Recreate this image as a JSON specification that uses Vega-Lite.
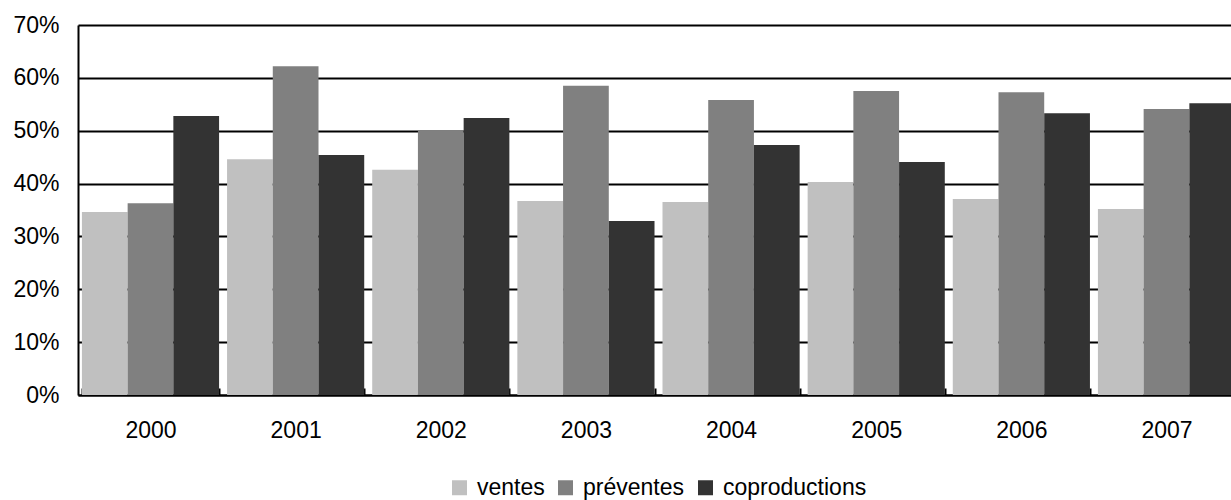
{
  "$schema": "https://vega.github.io/schema/vega-lite/v6.json",
  "autosize": "none",
  "padding": {"left": 78, "top": 25, "right": 0, "bottom": 105},
  "width": 1161,
  "height": 370,
  "background": "white",
  "config": {
    "view": {"stroke": null},
    "font": "Liberation Sans"
  },
  "data": {
    "values": [
      {"year": "2000", "type": "ventes", "value": 0.346},
      {"year": "2000", "type": "préventes", "value": 0.363},
      {"year": "2000", "type": "coproductions", "value": 0.528},
      {"year": "2001", "type": "ventes", "value": 0.446},
      {"year": "2001", "type": "préventes", "value": 0.622},
      {"year": "2001", "type": "coproductions", "value": 0.454},
      {"year": "2002", "type": "ventes", "value": 0.426},
      {"year": "2002", "type": "préventes", "value": 0.500},
      {"year": "2002", "type": "coproductions", "value": 0.524},
      {"year": "2003", "type": "ventes", "value": 0.367},
      {"year": "2003", "type": "préventes", "value": 0.585},
      {"year": "2003", "type": "coproductions", "value": 0.329},
      {"year": "2004", "type": "ventes", "value": 0.365},
      {"year": "2004", "type": "préventes", "value": 0.558},
      {"year": "2004", "type": "coproductions", "value": 0.473},
      {"year": "2005", "type": "ventes", "value": 0.403},
      {"year": "2005", "type": "préventes", "value": 0.575},
      {"year": "2005", "type": "coproductions", "value": 0.441},
      {"year": "2006", "type": "ventes", "value": 0.371},
      {"year": "2006", "type": "préventes", "value": 0.573},
      {"year": "2006", "type": "coproductions", "value": 0.533},
      {"year": "2007", "type": "ventes", "value": 0.352},
      {"year": "2007", "type": "préventes", "value": 0.541},
      {"year": "2007", "type": "coproductions", "value": 0.552}
    ]
  },
  "mark": {"type": "bar"},
  "encoding": {
    "x": {
      "field": "year",
      "type": "nominal",
      "scale": {"paddingInner": 0.055, "paddingOuter": 0.027},
      "axis": {
        "title": null,
        "labelAngle": 0,
        "labelFont": "Liberation Sans",
        "labelFontSize": 23,
        "labelColor": "black",
        "labelPadding": 31,
        "domainColor": "black",
        "domainWidth": 2,
        "tickColor": "black",
        "tickWidth": 2,
        "tickSize": -7,
        "tickBand": "extent",
        "grid": false
      }
    },
    "xOffset": {"field": "type", "sort": ["ventes", "préventes", "coproductions"]},
    "y": {
      "field": "value",
      "type": "quantitative",
      "scale": {"domain": [0, 0.7], "nice": false},
      "axis": {
        "title": null,
        "format": ".0%",
        "values": [0, 0.1, 0.2, 0.3, 0.4, 0.5, 0.6, 0.7],
        "labelFont": "Liberation Sans",
        "labelFontSize": 23,
        "labelColor": "black",
        "labelPadding": 19,
        "domainColor": "black",
        "domainWidth": 2,
        "tickColor": "black",
        "tickWidth": 2,
        "tickSize": 0,
        "grid": true,
        "gridColor": "black",
        "gridWidth": 2,
        "gridOpacity": 1
      }
    },
    "color": {
      "field": "type",
      "type": "nominal",
      "sort": ["ventes", "préventes", "coproductions"],
      "scale": {"domain": ["ventes", "préventes", "coproductions"], "range": ["#c0c0c0", "#808080", "#333333"]},
      "legend": {
        "title": null,
        "orient": "none",
        "direction": "horizontal",
        "legendX": 370,
        "legendY": 451,
        "symbolType": "square",
        "symbolSize": 225,
        "symbolStrokeWidth": 0,
        "symbolOpacity": 1,
        "labelFont": "Liberation Sans",
        "labelFontSize": 23,
        "labelColor": "black",
        "labelOffset": 6,
        "columnPadding": 9
      }
    }
  }
}
